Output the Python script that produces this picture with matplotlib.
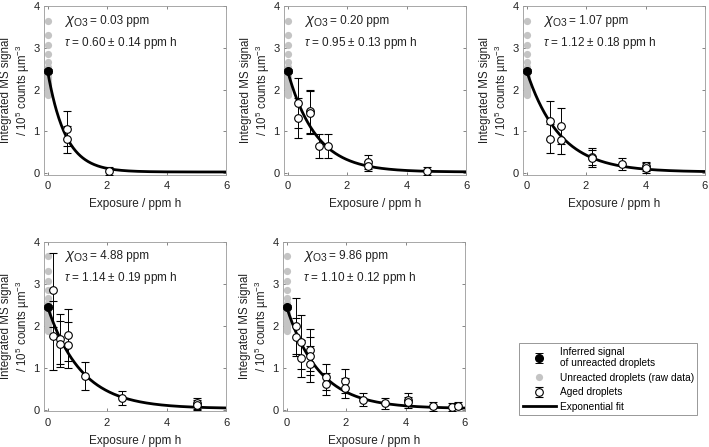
import numpy as np
import matplotlib
matplotlib.use("Agg")
import matplotlib.pyplot as plt
from matplotlib.lines import Line2D

plt.rcParams['font.family'] = ['Liberation Sans', 'DejaVu Sans']
plt.rcParams['mathtext.fontset'] = 'custom'
plt.rcParams['mathtext.rm'] = 'Liberation Sans'
plt.rcParams['mathtext.it'] = 'Liberation Sans:italic'

# ---- data ----
chi_o3 = ["0.03", "0.20", "1.07", "4.88", "9.86"]
tau_txt = ["0.60 ± 0.14", "0.95 ± 0.13", "1.12 ± 0.18", "1.14 ± 0.19", "1.10 ± 0.12"]
tau = [0.60, 0.95, 1.12, 1.14, 1.10]

y0_inferred = 2.45
y0_err = 0.05
fit_offset = 0.03

# unreacted droplets (raw data), shown at exposure 0 in every panel
unreacted_y = [3.65, 3.31, 3.07, 2.85, 2.65, 2.55, 2.5, 2.4, 2.35, 2.3, 2.25, 2.2,
               2.15, 2.1, 2.05, 2.0, 1.95, 1.9, 1.87]

p1_x = [0.65, 0.65, 2.08]
p1_y = [1.07, 0.81, 0.05]
p1_err = [0.42, 0.33, 0.10]

p2_x = [0.35, 0.35, 0.76, 0.76, 1.07, 1.36, 2.71, 2.71, 4.69]
p2_y = [1.68, 1.32, 1.48, 1.45, 0.65, 0.65, 0.27, 0.17, 0.05]
p2_err = [0.60, 0.47, 0.52, 0.52, 0.28, 0.28, 0.17, 0.12, 0.10]

p3_x = [0.80, 0.80, 1.16, 1.16, 2.20, 2.20, 3.20, 4.03, 4.03]
p3_y = [1.26, 0.83, 1.12, 0.80, 0.40, 0.36, 0.22, 0.17, 0.13]
p3_err = [0.47, 0.35, 0.43, 0.33, 0.20, 0.20, 0.15, 0.11, 0.12]

p4_x = [0.17, 0.17, 0.42, 0.42, 0.68, 0.68, 1.26, 2.51, 5.02, 5.02]
p4_y = [2.86, 1.76, 1.68, 1.57, 1.78, 1.55, 0.80, 0.28, 0.15, 0.12]
p4_err = [0.88, 0.82, 0.60, 0.55, 0.62, 0.55, 0.33, 0.17, 0.14, 0.12]

p5_x = [0.32, 0.32, 0.50, 0.50, 0.78, 0.78, 0.80, 1.32, 1.32, 1.97, 1.97, 2.58,
        3.30, 4.10, 4.10, 4.94, 5.57, 5.77]
p5_y = [1.99, 1.73, 1.61, 1.22, 1.43, 1.27, 1.09, 0.78, 0.61, 0.68, 0.51, 0.24,
        0.15, 0.24, 0.18, 0.08, 0.06, 0.10]
p5_err = [0.66, 0.45, 0.65, 0.44, 0.50, 0.45, 0.42, 0.30, 0.26, 0.29, 0.24, 0.16,
          0.13, 0.16, 0.13, 0.10, 0.09, 0.08]

panels = [(p1_x, p1_y, p1_err), (p2_x, p2_y, p2_err), (p3_x, p3_y, p3_err),
          (p4_x, p4_y, p4_err), (p5_x, p5_y, p5_err)]

# axes rectangles in pixels (left, top, right, bottom) of a 709x447 figure
W, H = 709, 447
rects_px = [(44, 6, 226, 174.5), (284, 6, 466, 174.5), (523, 6, 705, 174.5),
            (44, 241.7, 226, 411), (283, 241.7, 465, 411)]

fig = plt.figure(figsize=(7.09, 4.47), dpi=100)
renderer = fig.canvas.get_renderer()
gray = '#c4c4c4'
txtc = '#222222'

for i, (xs, ys, es) in enumerate(panels):
    l, t, r, b = rects_px[i]
    ax = fig.add_axes([l / W, 1 - b / H, (r - l) / W, (b - t) / H])

    ax.plot(np.zeros(len(unreacted_y)), unreacted_y, 'o', color=gray, ms=5.2,
            mec='none', zorder=2, clip_on=False)
    xf = np.linspace(0, 6, 300)
    yf = (y0_inferred - fit_offset) * np.exp(-xf / tau[i]) + fit_offset
    fit_line, = ax.plot(xf, yf, '-', color='k', lw=2, zorder=3)
    aged = ax.errorbar(xs, ys, yerr=es, fmt='o', ms=5.5, mfc='white', mec='k', mew=0.8,
                       ecolor='k', elinewidth=0.7, capsize=3, capthick=0.7, zorder=4)
    inferred = ax.errorbar([0], [y0_inferred], yerr=[y0_err], fmt='o', ms=5.5, mfc='k',
                           mec='k', ecolor='k', elinewidth=0.7, capsize=3, capthick=0.7,
                           zorder=5, clip_on=False)

    # annotation lines
    t1 = ax.text(0.11, 0.895, r'$\chi_{\rm O3}$', transform=ax.transAxes,
                 fontsize=10.5, va='baseline', ha='left', color=txtc)
    bb = t1.get_window_extent(renderer)
    x_end = ax.transAxes.inverted().transform((bb.x1, bb.y0))[0]
    ax.text(x_end + 0.01, 0.895, '= ' + chi_o3[i] + ' ppm', transform=ax.transAxes,
            fontsize=8.5, va='baseline', ha='left', color=txtc)
    ax.text(0.11, 0.765, r'$\tau$ = ' + tau_txt[i] + ' ppm h', transform=ax.transAxes,
            fontsize=8.5, va='baseline', ha='left', color=txtc)

    ax.set_xlim(-0.12, 6)
    ax.set_ylim(-0.03, 4)
    ax.set_xticks([0, 2, 4, 6])
    ax.set_yticks([0, 1, 2, 3, 4])
    ax.tick_params(direction='in', length=2.5, width=0.5, top=True, right=True,
                   labelsize=8, colors='#555555', labelcolor=txtc)
    ax.tick_params(axis='x', pad=5)
    ax.tick_params(axis='y', pad=3)
    for s in ax.spines.values():
        s.set_color('#999999')
        s.set_linewidth(0.6)
    ax.set_xlabel('Exposure / ppm h', fontsize=8.5, color=txtc, labelpad=5)
    ax.set_ylabel('Integrated MS signal\n/ 10$^5$ counts µm$^{-3}$', fontsize=8.3,
                  color=txtc, linespacing=1.15)
    ax.yaxis.set_label_coords(-0.065, 0.5)

handles = [inferred, Line2D([], [], marker='o', ls='none', color=gray, mec='none', ms=5.2),
           aged, fit_line]
labels = ['Inferred signal\nof unreacted droplets', 'Unreacted droplets (raw data)',
          'Aged droplets', 'Exponential fit']
leg = fig.legend(handles, labels, loc='upper left', bbox_to_anchor=(519 / W, 1 - 343 / H),
                 fontsize=7.3, frameon=True, fancybox=False, edgecolor='#888888',
                 framealpha=1, borderpad=0.35, labelspacing=0.45, handlelength=3.3,
                 handletextpad=0.35, borderaxespad=0)
leg.get_frame().set_linewidth(0.6)

fig.savefig('out.png', dpi=100)
